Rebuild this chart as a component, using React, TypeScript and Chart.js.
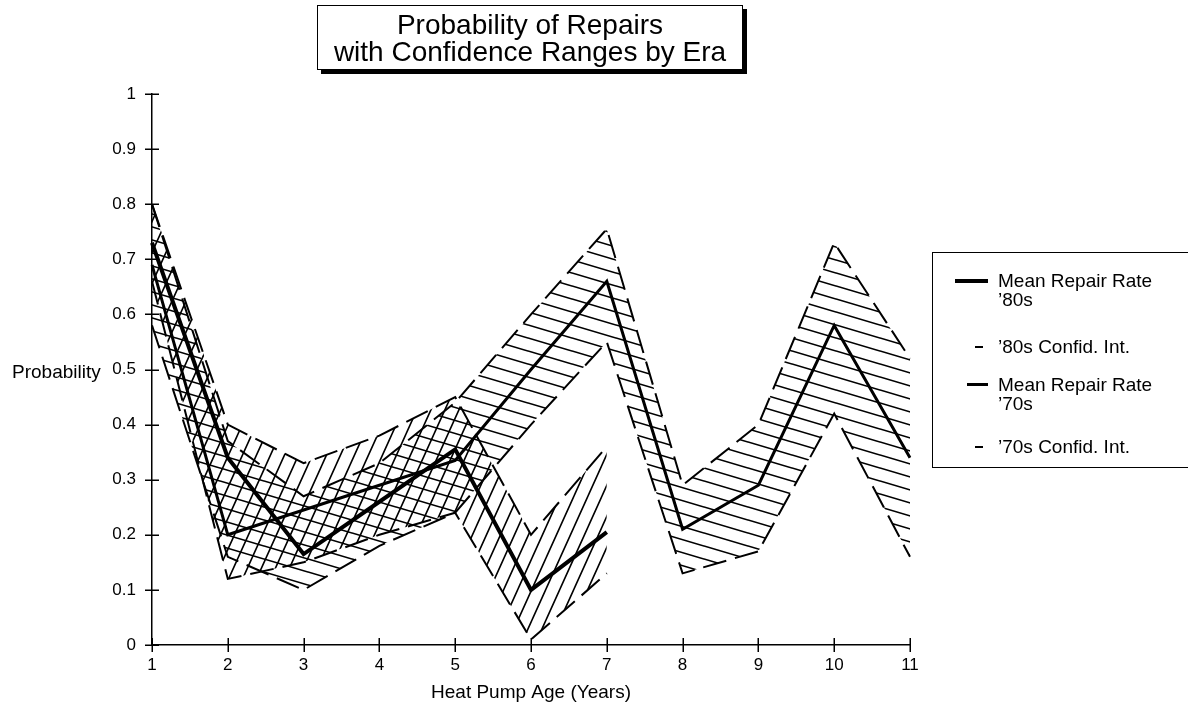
import React, { useEffect, useRef } from 'react';
import { Chart, registerables } from 'chart.js';

Chart.register(...registerables);

// ---- data ----
const ages = ['1', '2', '3', '4', '5', '6', '7', '8', '9', '10', '11'];
const mean80s = [0.73, 0.34, 0.165, 0.26, 0.355, 0.1, 0.205];
const upper80s = [0.8, 0.4, 0.33, 0.38, 0.45, 0.2, 0.36];
const lower80s = [0.66, 0.12, 0.15, 0.2, 0.24, 0.01, 0.13];
const mean70s = [0.69, 0.2, 0.245, 0.29, 0.335, 0.5, 0.66, 0.21, 0.29, 0.58, 0.34];
const upper70s = [0.8, 0.37, 0.27, 0.33, 0.44, 0.6, 0.755, 0.29, 0.4, 0.73, 0.52];
const lower70s = [0.58, 0.16, 0.1, 0.18, 0.24, 0.4, 0.55, 0.13, 0.17, 0.42, 0.16];
const titleLines = ['Probability of Repairs', 'with Confidence Ranges by Era'];
const legendItems = [
  { lines: ['Mean Repair Rate', '\u201980s'], kind: 'mean80' },
  { lines: ['\u201980s Confid. Int.'], kind: 'ci' },
  { lines: ['Mean Repair Rate', '\u201970s'], kind: 'mean70' },
  { lines: ['\u201970s Confid. Int.'], kind: 'ci' },
];

const FONT = '"Liberation Sans", Arial, Helvetica, sans-serif';

function makeHatch(ctx: CanvasRenderingContext2D, w: number, h: number, dir: 'up' | 'down', lw: number) {
  const c = document.createElement('canvas');
  c.width = w;
  c.height = h;
  const g = c.getContext('2d')!;
  g.strokeStyle = '#000';
  g.lineWidth = lw;
  g.beginPath();
  for (const ox of [-w, 0, w]) {
    for (const oy of [-h, 0, h]) {
      if (dir === 'up') {
        g.moveTo(ox, oy + h);
        g.lineTo(ox + w, oy);
      } else {
        g.moveTo(ox, oy);
        g.lineTo(ox + w, oy + h);
      }
    }
  }
  g.stroke();
  return ctx.createPattern(c, 'repeat') as CanvasPattern;
}

const crossTicks = {
  id: 'crossTicks',
  afterDraw(chart: any) {
    const { ctx, chartArea, scales } = chart;
    const xs = scales.x;
    const ys = scales.y;
    ctx.save();
    ctx.strokeStyle = '#000';
    ctx.lineWidth = 1.5;
    ctx.beginPath();
    ys.ticks.forEach((_t: any, i: number) => {
      const py = Math.round(ys.getPixelForTick(i)) + 0.25;
      ctx.moveTo(chartArea.left - 7, py);
      ctx.lineTo(chartArea.left + 7, py);
    });
    xs.ticks.forEach((_t: any, i: number) => {
      const px = Math.round(xs.getPixelForTick(i)) + 0.25;
      ctx.moveTo(px, chartArea.bottom - 7);
      ctx.lineTo(px, chartArea.bottom + 7);
    });
    ctx.stroke();
    ctx.restore();
  },
};

function ChartCanvas() {
  const ref = useRef<HTMLCanvasElement | null>(null);
  useEffect(() => {
    const canvas = ref.current!;
    const ctx = canvas.getContext('2d')!;
    const hatch80 = makeHatch(ctx, 14, 31, 'up', 1.6);
    const hatch70 = makeHatch(ctx, 44, 13, 'down', 1.6);
    const dash = [24, 9];
    const common = { pointRadius: 0, pointHoverRadius: 0, tension: 0, borderColor: '#000' };
    const chart = new Chart(canvas, {
      type: 'line',
      data: {
        labels: ages,
        datasets: [
          { ...common, label: '80s upper', data: upper80s, borderWidth: 2, borderDash: dash, fill: '+1', backgroundColor: hatch80 },
          { ...common, label: '80s lower', data: lower80s, borderWidth: 2, borderDash: dash, fill: false },
          { ...common, label: '70s upper', data: upper70s, borderWidth: 2, borderDash: dash, fill: '+1', backgroundColor: hatch70 },
          { ...common, label: '70s lower', data: lower70s, borderWidth: 2, borderDash: dash, fill: false },
          { ...common, label: 'Mean 80s', data: mean80s, borderWidth: 4, fill: false },
          { ...common, label: 'Mean 70s', data: mean70s, borderWidth: 3, fill: false },
        ],
      },
      options: {
        animation: false,
        responsive: false,
        devicePixelRatio: 1,
        layout: { padding: { left: 0, right: 278, top: 94, bottom: 0 } },
        plugins: { legend: { display: false }, tooltip: { enabled: false }, title: { display: false } },
        scales: {
          x: {
            type: 'category',
            offset: false,
            grid: { display: false, drawTicks: false },
            border: { display: true, color: '#000', width: 1.5 },
            ticks: { color: '#000', font: { family: FONT, size: 17 }, padding: 10, maxRotation: 0, autoSkip: false },
            title: {
              display: true,
              text: 'Heat Pump Age (Years)',
              color: '#000',
              font: { family: FONT, size: 19 },
              padding: { top: 0, bottom: 4 },
            },
            afterFit(scale: any) {
              scale.height = 63;
            },
          },
          y: {
            min: 0,
            max: 1,
            grid: { display: false, drawTicks: false },
            border: { display: true, color: '#000', width: 1.5 },
            ticks: {
              stepSize: 0.1,
              color: '#000',
              font: { family: FONT, size: 17 },
              padding: 16,
              callback: (v: any) => String(Number(Number(v).toFixed(1))),
            },
            afterFit(scale: any) {
              scale.width = 152;
            },
          },
        },
      },
      plugins: [crossTicks],
    } as any);
    return () => chart.destroy();
  }, []);
  return <canvas ref={ref} width={1188} height={708} style={{ position: 'absolute', left: 0, top: 0, width: 1188, height: 708 }} />;
}

export default function App() {
  const legendRows = [
    { top: 271, sample: { left: 955, width: 33, height: 4, dy: 8 } },
    { top: 337, sample: { left: 975, width: 8, height: 2, dy: 9 } },
    { top: 375, sample: { left: 967, width: 21, height: 3, dy: 8 } },
    { top: 437, sample: { left: 975, width: 8, height: 2, dy: 9 } },
  ];
  return (
    <div style={{ position: 'fixed', left: 0, top: 0, width: 1188, height: 708, background: '#fff', overflow: 'hidden', fontFamily: FONT, color: '#000' }}>
      <ChartCanvas />
      <div
        style={{
          position: 'absolute',
          left: 317,
          top: 5,
          width: 426,
          height: 65,
          boxSizing: 'border-box',
          border: '1px solid #000',
          boxShadow: '4px 4px 0 #000',
          background: '#fff',
          textAlign: 'center',
          fontSize: 28,
          lineHeight: '27px',
          paddingTop: 5,
        }}
      >
        {titleLines.map((t) => (
          <div key={t}>{t}</div>
        ))}
      </div>
      <div style={{ position: 'absolute', left: 12, top: 361, fontSize: 19, lineHeight: '22px' }}>Probability</div>
      <div
        style={{
          position: 'absolute',
          left: 932,
          top: 252,
          width: 270,
          height: 216,
          boxSizing: 'border-box',
          border: '1px solid #000',
        }}
      />
      {legendItems.map((item, i) => {
        const row = legendRows[i];
        const s = row.sample;
        return (
          <React.Fragment key={i}>
            <div style={{ position: 'absolute', left: s.left, top: row.top + s.dy, width: s.width, height: s.height, background: '#000' }} />
            <div style={{ position: 'absolute', left: 998, top: row.top, fontSize: 19, lineHeight: '19px', whiteSpace: 'nowrap' }}>
              {item.lines.map((l) => (
                <div key={l}>{l}</div>
              ))}
            </div>
          </React.Fragment>
        );
      })}
    </div>
  );
}
